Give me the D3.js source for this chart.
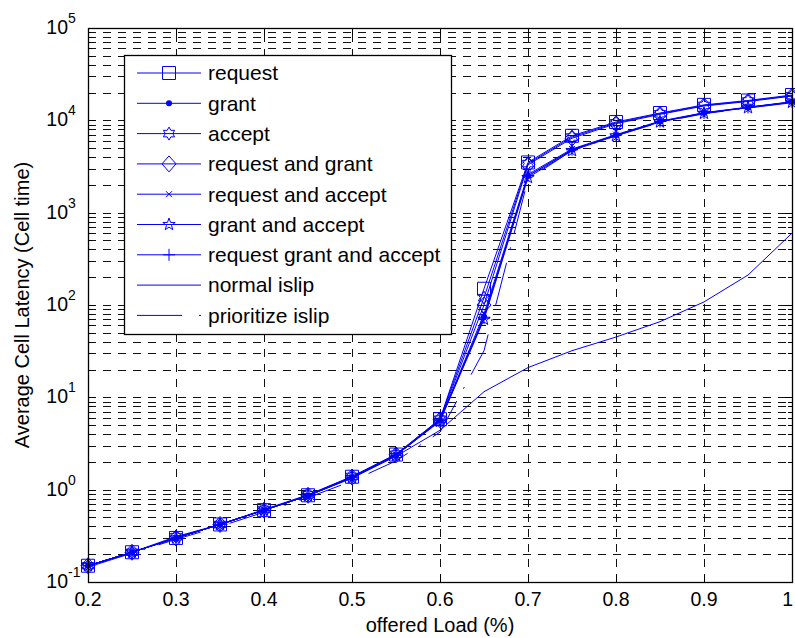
<!DOCTYPE html>
<html>
<head>
<meta charset="utf-8">
<script src="https://cdn.jsdelivr.net/npm/d3@7"></script>
<style>
  body { margin: 0; background: #fff; }
  text { font-family: "Liberation Sans", Arial, sans-serif; fill: #000; }
</style>
</head>
<body>
<svg id="chart" width="795" height="638"></svg>
<script>
// offered load values on the x axis
const loads = [0.2, 0.25, 0.3, 0.35, 0.4, 0.45, 0.5, 0.55, 0.6, 0.65, 0.7, 0.75, 0.8, 0.85, 0.9, 0.95, 1.0];

// average cell latency per series (cell time)
const request         = [0.15, 0.21, 0.30, 0.42, 0.60, 0.87, 1.38, 2.40, 5.8, 150, 3500, 6800, 9600, 12000, 14700, 16400, 18800];
const grant           = [0.15, 0.21, 0.30, 0.42, 0.60, 0.86, 1.36, 2.36, 5.6, 75, 2500, 4800, 6900, 9700, 12000, 13800, 15800];
const accept          = [0.15, 0.21, 0.31, 0.42, 0.61, 0.88, 1.39, 2.42, 5.8, 120, 3400, 6600, 9400, 11800, 14500, 16200, 18500];
const requestGrant    = [0.15, 0.21, 0.30, 0.42, 0.60, 0.87, 1.37, 2.38, 5.7, 100, 3300, 6400, 9200, 11600, 14300, 16000, 18300];
const requestAccept   = [0.15, 0.21, 0.30, 0.42, 0.60, 0.86, 1.36, 2.37, 5.6, 80, 2600, 4900, 7000, 9800, 12100, 13900, 15900];
const grantAccept     = [0.15, 0.21, 0.30, 0.42, 0.60, 0.86, 1.35, 2.35, 5.5, 70, 2400, 4700, 6800, 9600, 11900, 13700, 15700];
const reqGrantAccept  = [0.15, 0.21, 0.30, 0.42, 0.60, 0.86, 1.36, 2.36, 5.6, 72, 2500, 4800, 6900, 9700, 12000, 13800, 15800];
const normalIslip     = [0.15, 0.21, 0.30, 0.42, 0.60, 0.86, 1.33, 2.30, 4.4, 11.5, 21, 32, 45, 66, 108, 211, 600];
const prioritizeIslip = [0.145, 0.205, 0.29, 0.40, 0.57, 0.82, 1.24, 2.05, 4.2, 32, 2300, 4700, 6800, 9500, 11800, 13600, 15500];

const seriesNames = ["request", "grant", "accept", "request and grant", "request and accept",
                     "grant and accept", "request grant and accept", "normal islip", "prioritize islip"];
const seriesValues = [request, grant, accept, requestGrant, requestAccept, grantAccept, reqGrantAccept, normalIslip, prioritizeIslip];
const seriesMarkers = ["square", "dot", "hexagram", "diamond", "x", "pentagram", "plus", "none", "none"];

const xTicks = [0.2, 0.3, 0.4, 0.5, 0.6, 0.7, 0.8, 0.9, 1];
const yDecades = [-1, 0, 1, 2, 3, 4, 5];

const svg = d3.select("#chart");
const blue = "#0000ff";

const x = d3.scaleLinear().domain([0.2, 1]).range([88, 792]);
const y = d3.scaleLog().domain([0.1, 1e5]).range([582, 28]);

// star outline used for hexagram / pentagram markers
function starPath(points, outer, inner) {
    const p = d3.path();
    for (let i = 0; i < points * 2; i++) {
        const r = i % 2 === 0 ? outer : inner;
        const a = -Math.PI / 2 + i * Math.PI / points;
        if (i === 0) p.moveTo(r * Math.cos(a), r * Math.sin(a));
        else p.lineTo(r * Math.cos(a), r * Math.sin(a));
    }
    p.closePath();
    return p.toString();
}

function markerPath(type) {
    if (type === "square") return "M-6.5,-6.5h13v13h-13Z";
    if (type === "diamond") return "M0,-8L7,0L0,8L-7,0Z";
    if (type === "hexagram") return starPath(6, 6.5, 3.75);
    if (type === "pentagram") return starPath(5, 6.5, 2.6);
    if (type === "x") return "M-3,-3L3,3M-3,3L3,-3";
    if (type === "plus") return "M-6,0H6M0,-6V6";
    return null;
}

function drawMarker(g, type) {
    if (type === "dot") {
        g.append("circle").attr("r", 3).attr("fill", blue);
    } else if (type !== "none") {
        g.append("path").attr("d", markerPath(type))
            .attr("fill", "none").attr("stroke", blue).attr("stroke-width", 1);
    }
}

// minor / major log values for grid
const yGrid = [];
yDecades.forEach(e => {
    if (e < 5) {
        for (let m = 1; m < 10; m++) yGrid.push(m * Math.pow(10, e));
    } else {
        yGrid.push(Math.pow(10, e));
    }
});

const grid = svg.append("g").attr("stroke", "#111").attr("stroke-width", 1)
    .attr("stroke-dasharray", "8,7").attr("shape-rendering", "crispEdges");

grid.selectAll(".hg").data(yGrid.filter(v => v > 0.1 && v < 1e5)).join("line")
    .attr("x1", x(0.2)).attr("x2", x(1))
    .attr("y1", d => Math.round(y(d)) + 0.5).attr("y2", d => Math.round(y(d)) + 0.5);

grid.selectAll(".vg").data(xTicks.slice(1, -1)).join("line")
    .attr("x1", d => Math.round(x(d)) + 0.5).attr("x2", d => Math.round(x(d)) + 0.5)
    .attr("y1", y(0.1)).attr("y2", y(1e5));

// tick marks inside the box
const ticks = svg.append("g").attr("stroke", "#000").attr("stroke-width", 1).attr("shape-rendering", "crispEdges");
xTicks.forEach(t => {
    const px = Math.round(x(t)) + 0.5;
    ticks.append("line").attr("x1", px).attr("x2", px).attr("y1", y(0.1)).attr("y2", y(0.1) - 7);
    ticks.append("line").attr("x1", px).attr("x2", px).attr("y1", y(1e5)).attr("y2", y(1e5) + 7);
});
yGrid.forEach(v => {
    const py = Math.round(y(v)) + 0.5;
    const len = Math.abs(Math.log10(v) - Math.round(Math.log10(v))) < 1e-9 ? 7 : 4;
    ticks.append("line").attr("x1", x(0.2)).attr("x2", x(0.2) + len).attr("y1", py).attr("y2", py);
    ticks.append("line").attr("x1", x(1)).attr("x2", x(1) - len).attr("y1", py).attr("y2", py);
});

// series lines
const line = d3.line().x((d, i) => x(loads[i])).y(d => y(d));

seriesValues.forEach((vals, k) => {
    svg.append("path")
        .datum(vals)
        .attr("fill", "none")
        .attr("stroke", blue)
        .attr("stroke-width", 1)
        .attr("stroke-dasharray", seriesNames[k] === "prioritize islip" ? "44,14,2,14" : null)
        .attr("d", line);
});

// markers
seriesValues.forEach((vals, k) => {
    vals.forEach((v, i) => {
        const g = svg.append("g").attr("transform", "translate(" + x(loads[i]) + "," + y(v) + ")");
        drawMarker(g, seriesMarkers[k]);
    });
});

// axes box
svg.append("rect")
    .attr("x", x(0.2) + 0.5).attr("y", y(1e5) + 0.5)
    .attr("width", x(1) - x(0.2)).attr("height", y(0.1) - y(1e5))
    .attr("fill", "none").attr("stroke", "#000").attr("stroke-width", 1.3);

// x tick labels (last one kept inside the page edge)
svg.append("g").selectAll("text").data(xTicks).join("text")
    .attr("x", d => d === 1 ? 793 : x(d)).attr("y", 606)
    .attr("text-anchor", d => d === 1 ? "end" : "middle").attr("font-size", 19.5)
    .text(d => d === 1 ? "1" : d.toFixed(1));

// y tick labels 10^n
yDecades.forEach(e => {
    const py = y(Math.pow(10, e));
    svg.append("text").attr("x", 68).attr("y", py + 6)
        .attr("text-anchor", "end").attr("font-size", 19.5).text("10");
    svg.append("text").attr("x", 68).attr("y", py - 5)
        .attr("text-anchor", "start").attr("font-size", 14).text(String(e));
});

// axis titles
svg.append("text")
    .attr("x", 440).attr("y", 632)
    .attr("text-anchor", "middle").attr("font-size", 20)
    .text("offered Load (%)");

svg.append("text")
    .attr("transform", "translate(29,305) rotate(-90)")
    .attr("text-anchor", "middle").attr("font-size", 20)
    .text("Average Cell Latency (Cell time)");

// legend
const legend = svg.append("g");
legend.append("rect")
    .attr("x", 124.5).attr("y", 55.5).attr("width", 327).attr("height", 279)
    .attr("fill", "#fff").attr("stroke", "#000").attr("stroke-width", 1.3);

const item = legend.selectAll(".item").data(seriesNames).join("g")
    .attr("transform", (d, i) => "translate(0," + (73 + i * 30.3) + ")");

item.append("line")
    .attr("x1", 137).attr("x2", 201).attr("y1", 0).attr("y2", 0)
    .attr("stroke", blue).attr("stroke-width", 1)
    .attr("stroke-dasharray", d => d === "prioritize islip" ? "45,17,2,17" : null);

item.each(function(d, i) {
    const g = d3.select(this).append("g").attr("transform", "translate(169,0)");
    drawMarker(g, seriesMarkers[i]);
});

item.append("text")
    .attr("x", 208).attr("y", 0).attr("dy", "0.35em")
    .attr("font-size", 21)
    .text(d => d);
</script>
</body>
</html>
